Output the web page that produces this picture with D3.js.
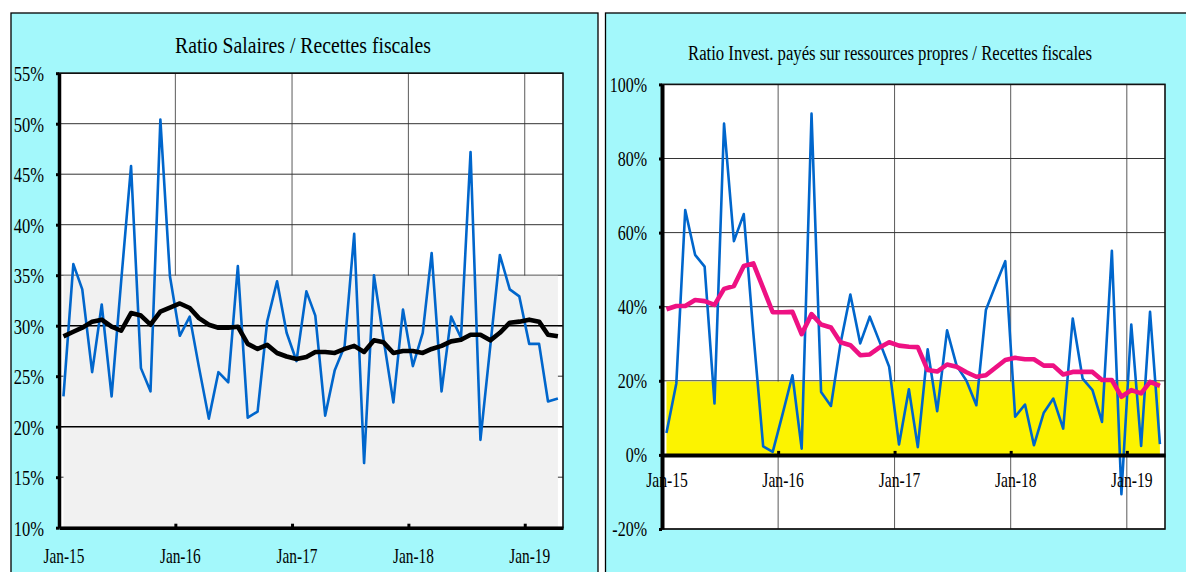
<!DOCTYPE html>
<html>
<head>
<meta charset="utf-8">
<script src="https://cdn.jsdelivr.net/npm/d3@7"></script>
<style>
body { margin: 0; background: #fff; }
text { font-family: "Liberation Serif", "Times New Roman", serif; fill: #000; }
</style>
</head>
<body>
<script>
// mois des observations (points placés au milieu du mois)
var months = ["2015-01","2015-02","2015-03","2015-04","2015-05","2015-06","2015-07","2015-08","2015-09","2015-10","2015-11","2015-12",
              "2016-01","2016-02","2016-03","2016-04","2016-05","2016-06","2016-07","2016-08","2016-09","2016-10","2016-11","2016-12",
              "2017-01","2017-02","2017-03","2017-04","2017-05","2017-06","2017-07","2017-08","2017-09","2017-10","2017-11","2017-12",
              "2018-01","2018-02","2018-03","2018-04","2018-05","2018-06","2018-07","2018-08","2018-09","2018-10","2018-11","2018-12",
              "2019-01","2019-02","2019-03","2019-04"];

// Ratio Salaires / Recettes fiscales (%)
var salaires = [23.0,36.1,33.6,25.4,32.1,23.0,34.4,45.8,25.8,23.5,50.4,34.9,
                29.0,30.9,25.9,20.8,25.4,24.4,35.9,20.9,21.5,30.4,34.4,29.3,
                26.5,33.4,31.0,21.1,25.6,28.0,39.1,16.4,35.0,28.7,22.4,31.6,
                26.0,29.3,37.2,23.5,30.9,28.8,47.2,18.7,28.0,37.0,33.6,32.9,
                28.2,28.2,22.5,22.8];
var salairesMoy = [28.95,29.4,29.8,30.4,30.6,29.9,29.5,31.25,31.0,30.1,31.4,31.8,
                   32.2,31.75,30.75,30.1,29.8,29.8,29.9,28.2,27.7,28.1,27.3,26.95,
                   26.7,26.9,27.4,27.4,27.3,27.7,28.0,27.4,28.55,28.35,27.3,27.5,
                   27.5,27.3,27.7,28.0,28.45,28.6,29.1,29.1,28.55,29.3,30.3,30.4,
                   30.6,30.4,29.1,28.95];

// Ratio Invest. payés sur ressources propres / Recettes fiscales (%)
var invest = [5.9,19.3,66.1,54.0,50.8,13.9,89.4,57.7,65.0,33.0,2.3,0.8,
              11.0,21.5,1.7,92.1,17.0,13.2,30.0,43.3,30.1,37.3,30.5,23.8,
              2.8,17.7,2.1,28.5,11.8,33.6,24.1,20.0,13.4,39.1,45.9,52.3,
              10.3,13.6,2.6,11.4,15.2,7.1,36.8,20.6,17.5,8.9,55.1,-10.6,
              35.2,2.4,38.6,2.9];
var investMoy = [39.3,40.2,40.2,41.8,41.5,40.5,44.8,45.6,51.0,51.7,45.0,38.5,
                 38.5,38.6,32.6,38.0,35.2,34.4,30.4,29.6,26.9,27.1,29.0,30.4,
                 29.5,29.2,29.1,22.9,22.5,24.4,23.8,22.3,21.1,21.5,23.6,25.6,
                 26.2,25.8,25.8,24.1,24.1,21.7,22.4,22.4,22.4,20.2,20.2,15.7,
                 17.5,16.6,19.7,18.6];

var bandeGrise = [10, 35];
var bandeJaune = [0, 20];
var seuilsSalaires = [20, 30];
var ticksSalaires = [10, 15, 20, 25, 30, 35, 40, 45, 50, 55];
var ticksInvest = [-20, 0, 20, 40, 60, 80, 100];
var yearTicks = ["2015-01-01","2016-01-01","2017-01-01","2018-01-01","2019-01-01"];
var xDomain = ["2015-01-01","2019-05-01"];

var parseMonth = d3.timeParse("%Y-%m");
var parseDay = d3.timeParse("%Y-%m-%d");
var dates = months.map(function(m) { return d3.timeDay.offset(parseMonth(m), 14); });

var svg = d3.select("body").append("svg")
    .attr("width", 1186)
    .attr("height", 572);

function drawChart(o) {
    var g = svg.append("g");

    g.append("rect")
    .attr("x", o.panel[0]).attr("y", o.panel[1])
    .attr("width", o.panel[2]).attr("height", o.panel[3])
    .attr("fill", "#a3f8fb")
    .attr("stroke", "#000")
    .attr("stroke-width", 1.3);

    g.append("text")
    .attr("x", o.titleX).attr("y", o.titleY)
    .attr("text-anchor", "middle")
    .attr("font-size", o.titleSize)
    .attr("textLength", o.titleWidth)
    .attr("lengthAdjust", "spacingAndGlyphs")
    .text(o.title);

    var x = d3.scaleTime().domain(xDomain.map(parseDay)).range([o.left, o.right]);
    var y = d3.scaleLinear().domain(o.yDomain).range([o.bottom, o.top]);

    g.append("rect")
    .attr("x", o.left).attr("y", o.top)
    .attr("width", o.right - o.left).attr("height", o.bottom - o.top)
    .attr("fill", "#fff");

    //quadrillage
    g.selectAll(".vgrid").data(yearTicks.slice(1).map(parseDay)).enter().append("line")
    .attr("x1", function(d) { return x(d); }).attr("x2", function(d) { return x(d); })
    .attr("y1", o.top).attr("y2", o.bottom)
    .attr("stroke", "#5a5a5a").attr("stroke-width", 1);

    g.selectAll(".hgrid").data(o.ticks).enter().append("line")
    .attr("x1", o.left).attr("x2", o.right)
    .attr("y1", function(d) { return y(d); }).attr("y2", function(d) { return y(d); })
    .attr("stroke", "#333").attr("stroke-width", 1);

    //bande de référence
    var area = d3.area()
        .x(function(d) { return x(d); })
        .y0(y(o.band[0]))
        .y1(y(o.band[1]) + 0.6);
    g.append("path").datum(dates)
    .attr("d", area)
    .attr("fill", o.bandColor);

    o.thresholds.forEach(function(v) {
        g.append("line")
        .attr("x1", o.left).attr("x2", o.right)
        .attr("y1", y(v)).attr("y2", y(v))
        .attr("stroke", "#000").attr("stroke-width", 1.6);
    });

    g.append("rect")
    .attr("x", o.left).attr("y", o.top)
    .attr("width", o.right - o.left).attr("height", o.bottom - o.top)
    .attr("fill", "none")
    .attr("stroke", "#111")
    .attr("stroke-width", 1.6);

    var line = d3.line()
        .x(function(d, i) { return x(dates[i]); })
        .y(function(d) { return y(d); });

    g.append("path").datum(o.values)
    .attr("d", line)
    .attr("fill", "none")
    .attr("stroke", "#0066cc")
    .attr("stroke-width", 2.6)
    .attr("stroke-linejoin", "round");

    g.append("path").datum(o.moy)
    .attr("d", line)
    .attr("fill", "none")
    .attr("stroke", o.moyColor)
    .attr("stroke-width", 4.6)
    .attr("stroke-linejoin", "round");

    //axes
    var yAxis = d3.axisLeft(y)
        .tickValues(o.ticks)
        .tickFormat(function(d) { return d + "%"; })
        .tickSizeInner(3).tickSizeOuter(0);
    var ya = g.append("g")
        .attr("transform", "translate(" + o.left + ",0)")
        .call(yAxis);
    ya.attr("font-family", null).attr("font-size", null);
    ya.select(".domain").attr("stroke", "#000").attr("stroke-width", o.axisWidth);
    ya.selectAll(".tick line").attr("stroke", "#000").attr("stroke-width", 3);
    ya.selectAll(".tick text")
    .attr("x", 0).attr("dy", "0.34em")
    .attr("font-size", o.tickFont)
    .attr("transform", "translate(-15,0) scale(" + o.tickScale + ",1)");

    var xAxis = d3.axisBottom(x)
        .tickValues(yearTicks.map(parseDay))
        .tickFormat(d3.timeFormat("%b-%y"))
        .tickSizeInner(-4).tickSizeOuter(0);
    var xa = g.append("g")
        .attr("transform", "translate(0," + y(o.xAt) + ")")
        .call(xAxis);
    xa.attr("font-family", null).attr("font-size", null);
    xa.select(".domain").attr("stroke", "#000").attr("stroke-width", o.axisWidth);
    xa.selectAll(".tick line").attr("stroke", "#000").attr("stroke-width", 3);
    xa.selectAll(".tick text")
    .attr("y", o.labelY).attr("dy", 0)
    .attr("font-size", o.labelFont)
    .attr("transform", "translate(4.5,0) scale(" + o.labelScale + ",1)");
}

drawChart({
    panel: [11, 13, 587, 620],
    title: "Ratio Salaires / Recettes fiscales",
    titleX: 303, titleY: 53, titleSize: 24, titleWidth: 256,
    left: 59, right: 563, top: 73.2, bottom: 527.7,
    yDomain: [10, 55], ticks: ticksSalaires, xAt: 10,
    values: salaires, moy: salairesMoy, moyColor: "#000",
    band: bandeGrise, bandColor: "#f1f1f1", thresholds: seuilsSalaires,
    axisWidth: 3.5, tickFont: 22, tickScale: 0.75,
    labelFont: 21, labelScale: 0.73, labelY: 35
});

drawChart({
    panel: [605.5, 13, 620, 620],
    title: "Ratio Invest. payés sur ressources propres / Recettes fiscales",
    titleX: 890, titleY: 60, titleSize: 20, titleWidth: 404,
    left: 662, right: 1165, top: 84.4, bottom: 529,
    yDomain: [-20, 100], ticks: ticksInvest, xAt: 0,
    values: invest, moy: investMoy, moyColor: "#ee1183",
    band: bandeJaune, bandColor: "#fcf300", thresholds: [],
    axisWidth: 4, tickFont: 20, tickScale: 0.8,
    labelFont: 20, labelScale: 0.78, labelY: 32
});
</script>
</body>
</html>
